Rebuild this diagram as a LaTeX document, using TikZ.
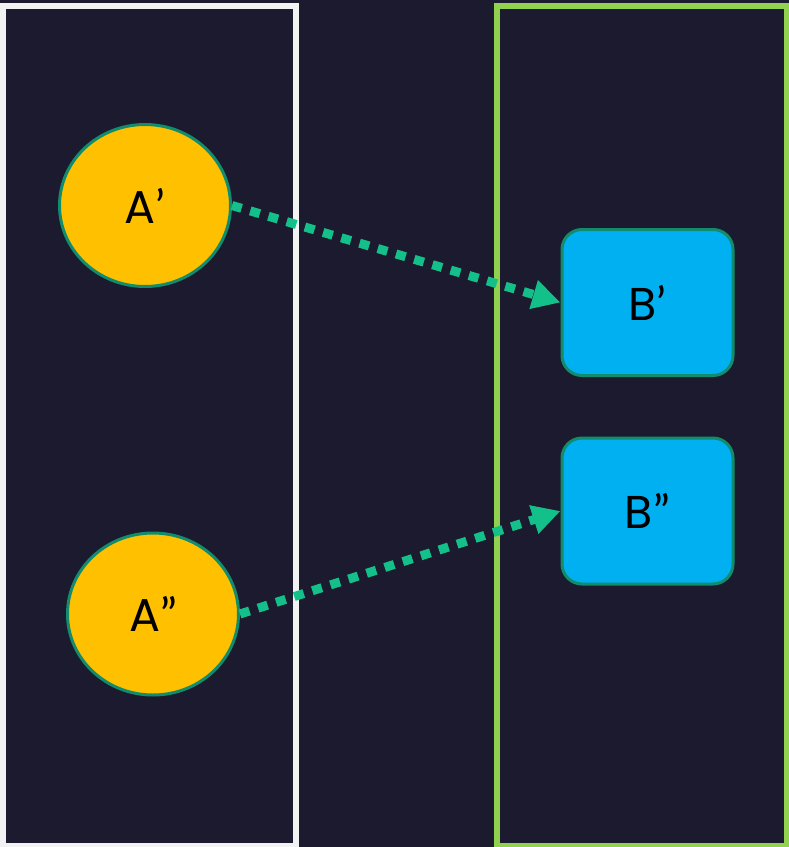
\documentclass[tikz,border=0pt]{standalone}
\usepackage{fontspec}
\setmainfont{Poppins}
\newfontfamily\quotefont{Lato}
\usetikzlibrary{shapes.geometric,arrows.meta}
\definecolor{bgnavy}{HTML}{1C1A2E}
\definecolor{framewhite}{HTML}{F2F2F2}
\definecolor{framegreen}{HTML}{92D050}
\definecolor{sunorange}{HTML}{FFC000}
\definecolor{skyblue}{HTML}{00B0F0}
\definecolor{tealedge}{HTML}{118C6C}
\definecolor{linkteal}{HTML}{14C08A}
% curly quote marks
\newcommand{\onequote}{{\quotefont ’}}
\newcommand{\twoquote}{{\quotefont ”}}
\tikzset{
  lbl/.style={font=\fontsize{46}{50}\selectfont, text=black},
  srcnode/.style={ellipse, draw=tealedge, line width=3pt, fill=sunorange,
    minimum width=171pt, minimum height=162pt, inner sep=0pt, lbl},
  dstnode/.style={rectangle, rounded corners=20pt, draw=tealedge, line width=3pt,
    fill=skyblue, minimum width=171pt, minimum height=146pt, inner sep=0pt, lbl},
  groupframe/.style={line width=6pt},
  link/.style={draw=linkteal, line width=9pt, line cap=butt,
    dash pattern=on 10pt off 9pt,
    -{Triangle[length=28pt,width=28pt,fill=linkteal]}}
}
\begin{document}
\begin{tikzpicture}[x=1pt,y=-1pt]
  % canvas
  \fill[bgnavy] (0,0) rectangle (789,847);
  \useasboundingbox (0,0) rectangle (789,847);
  % group frames
  \draw[groupframe, framewhite] (2.5,6) rectangle (296,846);
  \draw[groupframe, framegreen] (497,6) rectangle (787,846);
  % nodes
  \node[srcnode] (a1) at (145,205.5) {A\onequote};
  \node[srcnode] (a2) at (153,614) {A\twoquote};
  \node[dstnode] (b1) at (647.5,302.5) {B\onequote};
  \node[dstnode] (b2) at (647.5,511) {B\twoquote};
  % links
  \draw[link] (a1.east) -- (b1.west);
  \draw[link] (a2.east) -- (b2.west);
\end{tikzpicture}
\end{document}
